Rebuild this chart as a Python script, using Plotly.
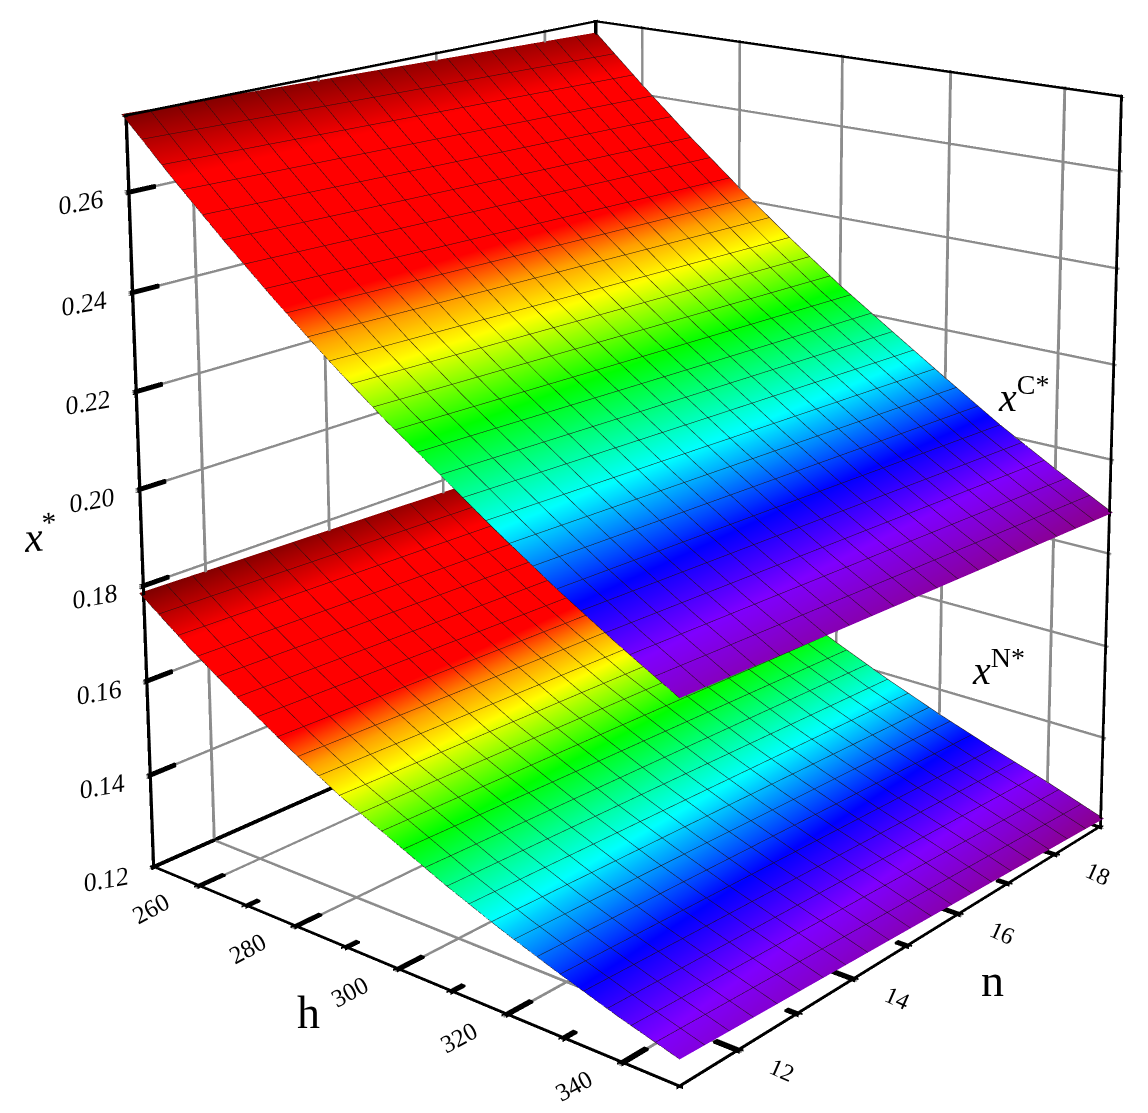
import plotly.graph_objects as go

h_values = [250, 260, 270, 280, 290, 300, 310, 320, 330, 340, 350]
n_values = [11, 15, 19]
x_c = [
    [0.2755, 0.2740, 0.2725],
    [0.2650, 0.2635, 0.2620],
    [0.2550, 0.2535, 0.2520],
    [0.2455, 0.2440, 0.2425],
    [0.2365, 0.2350, 0.2335],
    [0.2282, 0.2266, 0.2250],
    [0.2205, 0.2188, 0.2172],
    [0.2128, 0.2111, 0.2095],
    [0.2055, 0.2038, 0.2020],
    [0.1988, 0.1970, 0.1952],
    [0.1925, 0.1906, 0.1888],
]
x_n = [
    [0.1787, 0.1775, 0.1762],
    [0.1710, 0.1698, 0.1685],
    [0.1640, 0.1627, 0.1615],
    [0.1575, 0.1562, 0.1550],
    [0.1515, 0.1503, 0.1490],
    [0.1465, 0.1452, 0.1438],
    [0.1415, 0.1402, 0.1388],
    [0.1370, 0.1357, 0.1343],
    [0.1330, 0.1316, 0.1302],
    [0.1293, 0.1279, 0.1264],
    [0.1260, 0.1241, 0.1222],
]
h_ticks = [260, 280, 300, 320, 340]
h_minor = [270, 290, 310, 330]
n_ticks = [12, 14, 16, 18]
n_minor = [13, 15, 17]
z_ticks = [0.12, 0.14, 0.16, 0.18, 0.20, 0.22, 0.24, 0.26]
z_labels = ["0.12", "0.14", "0.16", "0.18", "0.20", "0.22", "0.24", "0.26"]
H0, H1 = 250, 350
N0, N1 = 11, 19
Z0, Z1 = 0.12, 0.2755

scale = [
    [0.0, "#8a0090"], [0.09, "#7f00ff"], [0.17, "#0000ff"], [0.28, "#00ffff"],
    [0.41, "#00ff00"], [0.52, "#ffff00"], [0.58, "#ffa000"], [0.645, "#ff0000"],
    [0.88, "#ff0000"], [1.0, "#800000"],
]
SERIF = "Liberation Serif"
FLAT = dict(ambient=1, diffuse=0, specular=0, roughness=1, fresnel=0)

# The plot is laid out larger than the window and shifted, which gives the long lens of the original.
SIZE = 2558
OX, OY = -596, -1166


def px(x, y):
    return dict(x=(x - OX) / SIZE, y=1 - (y - OY) / SIZE, xref="paper", yref="paper",
                xanchor="center", yanchor="middle", showarrow=False)


def surface(z):
    return go.Surface(
        x=h_values, y=n_values, z=[list(r) for r in zip(*z)], colorscale=scale, showscale=False,
        lighting=FLAT, hoverinfo="skip",
        contours=dict(
            x=dict(show=True, start=H0, end=H1, size=4, color="#201010", width=1),
            y=dict(show=True, start=N0, end=N1, size=0.4, color="#201010", width=1),
        ),
    )


def bars(segments, color):
    """Thin box solids along (start, end, width-in-pixels) segments; WebGL lines stay 1 px wide."""
    xs, ys, zs, i, j, k = [], [], [], [], [], []
    for a, b, w in segments:
        dx, dy, dz = w / 2 / 5.3, w / 2 / 62, w / 2 / 4800
        lo = [min(a[0], b[0]) - dx, min(a[1], b[1]) - dy, min(a[2], b[2]) - dz]
        hi = [max(a[0], b[0]) + dx, max(a[1], b[1]) + dy, max(a[2], b[2]) + dz]
        s = len(xs)
        for c in range(8):
            xs.append(hi[0] if c & 1 else lo[0])
            ys.append(hi[1] if c & 2 else lo[1])
            zs.append(hi[2] if c & 4 else lo[2])
        for t in [(0, 1, 3), (0, 3, 2), (4, 5, 7), (4, 7, 6), (0, 1, 5), (0, 5, 4),
                  (2, 3, 7), (2, 7, 6), (0, 2, 6), (0, 6, 4), (1, 3, 7), (1, 7, 5)]:
            i.append(s + t[0]); j.append(s + t[1]); k.append(s + t[2])
    return go.Mesh3d(x=xs, y=ys, z=zs, i=i, j=j, k=k, color=color, flatshading=True,
                     lighting=FLAT, hoverinfo="skip", showscale=False)


edges = [
    ((H0, N0, Z0), (H0, N0, Z1), 6), ((H1, N1, Z0), (H1, N1, Z1), 5), ((H0, N1, Z0), (H0, N1, Z1), 4),
    ((H0, N0, Z0), (H1, N0, Z0), 6), ((H1, N0, Z0), (H1, N1, Z0), 6),
    ((H0, N0, Z0), (H0, N1, Z0), 5), ((H0, N1, Z0), (H1, N1, Z0), 4),
    ((H0, N0, Z1), (H0, N1, Z1), 5), ((H0, N1, Z1), (H1, N1, Z1), 5),
]
ticks = []
ticks += [((H0, N0, t), (H0, N0 + 0.4, t), 4) for t in z_ticks]
ticks += [((t, N0, Z0), (t, N0 + 0.4, Z0), 4) for t in h_ticks]
ticks += [((t, N0, Z0), (t, N0 + 0.2, Z0), 4) for t in h_minor]
ticks += [((H1, t, Z0), (H1 - 4, t, Z0), 4) for t in n_ticks]
ticks += [((H1, t, Z0), (H1 - 2, t, Z0), 4) for t in n_minor]

grid = []
for t in h_ticks:
    grid += [((t, N1, Z0), (t, N1, Z1), 2), ((t, N0, Z0), (t, N1, Z0), 2)]
for t in n_ticks:
    grid += [((H0, t, Z0), (H0, t, Z1), 2), ((H0, t, Z0), (H1, t, Z0), 2)]
for t in z_ticks[1:]:
    grid += [((H0, N0, t), (H0, N1, t), 2), ((H0, N1, t), (H1, N1, t), 2)]

fig = go.Figure([surface(x_c), surface(x_n), bars(grid, "#8c8c8c"), bars(edges + ticks, "black")])

notes = []
for t, lab in zip(z_ticks, z_labels):
    notes.append(dict(x=H0, y=N0, z=t, text=lab, showarrow=False, textangle=-10, xshift=-44, yshift=-10,
                      font=dict(family=SERIF, size=26, color="black", style="italic")))
for t in h_ticks:
    notes.append(dict(x=t, y=N0, z=Z0, text=str(t), showarrow=False, textangle=-28, xshift=-45, yshift=-20,
                      font=dict(family=SERIF, size=25, color="black")))
for t in n_ticks:
    notes.append(dict(x=H1, y=t, z=Z0, text=str(t), showarrow=False, textangle=24, xshift=40, yshift=-17,
                      font=dict(family=SERIF, size=24, color="black")))

axis = dict(showbackground=False, showgrid=True, gridcolor="#8c8c8c", gridwidth=2, zeroline=False,
            showline=False, ticks="", showticklabels=False, title="", showspikes=False)
fig.update_layout(
    width=SIZE, height=SIZE, margin=dict(l=0, r=0, t=0, b=0), paper_bgcolor="white", showlegend=False,
    scene=dict(
        domain=dict(x=[0, 1], y=[0, 1]),
        xaxis=dict(axis, range=[H0, H1], tickvals=h_ticks),
        yaxis=dict(axis, range=[N0, N1], tickvals=n_ticks),
        zaxis=dict(axis, range=[Z0, Z1], tickvals=z_ticks),
        aspectmode="manual", aspectratio=dict(x=1.01, y=1.01, z=1.133),
        camera=dict(eye=dict(x=2.785, y=-3.275, z=1.427), center=dict(x=-0.008, y=0.126, z=0.533),
                    up=dict(x=0.0047, y=0.0038, z=1)),
        annotations=notes,
    ),
    annotations=[
        dict(px(40, 533), text="<i>x</i><sup>*</sup>", textangle=-5, font=dict(family=SERIF, size=42, color="black")),
        dict(px(308, 1012), text="h", font=dict(family=SERIF, size=46, color="black")),
        dict(px(992, 980), text="n", font=dict(family=SERIF, size=46, color="black")),
        dict(px(1023, 394), text="<i>x</i><sup>C*</sup>", font=dict(family=SERIF, size=40, color="black")),
        dict(px(998, 667), text="<i>x</i><sup>N*</sup>", font=dict(family=SERIF, size=40, color="black")),
    ],
)
shift = (
    "document.body.style.margin='0';document.body.style.overflow='hidden';"
    "document.documentElement.style.overflow='hidden';"
    f"var g=document.querySelector('.plotly-graph-div');g.style.position='absolute';"
    f"g.style.left='{OX}px';g.style.top='{OY}px';"
)
fig.write_html("out.html", post_script=shift, config=dict(displayModeBar=False))
